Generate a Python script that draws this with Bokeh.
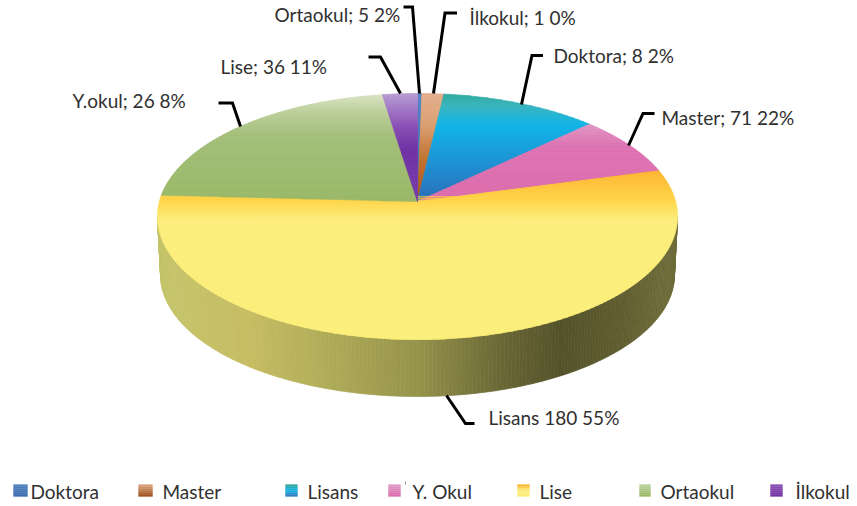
import math
from bokeh.plotting import figure
from bokeh.embed import file_html
from bokeh.resources import INLINE
from bokeh.models import Range1d
from bokeh.core.properties import value

# ---- data ----
legend_names = ["Doktora", "Master", "Lisans", "Y. Okul", "Lise", "Ortaokul", "İlkokul"]
slice_values = [1, 5, 36, 26, 180, 71, 8]          # clockwise from the top
label_texts = ["Ortaokul; 5 2%", "İlkokul; 1 0%", "Doktora; 8 2%", "Master; 71 22%",
               "Lisans 180 55%", "Y.okul; 26 8%", "Lise; 36 11%"]

# ---- styles and layout ----
slice_stops = [
    [(92, "#5585C5"), (200, "#3A6AB0")],
    [(92, "#E3B090"), (125, "#DA9F70"), (160, "#C0702E"), (200, "#A85520")],
    [(92, "#2FA898"), (105, "#3BB5BE"), (126, "#12B5E8"), (160, "#1E95D6"), (200, "#2C6FB8")],
    [(123, "#DF98C4"), (145, "#DD72B2"), (200, "#DC6AAC")],
    [(171, "#FDB52E"), (200, "#FFD447"), (220, "#FCEE7A"), (339, "#FBEE78")],
    [(92, "#DDE6C8"), (112, "#BBCF9B"), (136, "#A3BE78"), (195, "#9AB968")],
    [(92, "#B9A0D4"), (126, "#8A50B5"), (150, "#7030A5"), (200, "#7A3CAA")],
]
side_stops = [(158, "#C4C46A"), (250, "#C6BC62"), (330, "#AEAB58"), (420, "#94914A"),
              (500, "#6A6836"), (560, "#54522A"), (620, "#5F5D2F"), (675, "#6F6D3A")]
legend_stops = [
    [(0, "#4F81BD"), (1, "#3A6AB0")],
    [(0, "#D9A27A"), (1, "#A0521E")],
    [(0, "#2FA8A0"), (.5, "#12B5E8"), (1, "#2C7FC0")],
    [(0, "#DF98C4"), (1, "#DC6AAC")],
    [(0, "#FDB52E"), (.5, "#FCEE7A"), (1, "#FBEE78")],
    [(0, "#BBCF9B"), (1, "#9AB968")],
    [(0, "#8A50B5"), (1, "#7030A0")],
]
AX, AY = 417.0, 201.0          # apex on screen
A, B, K = 258.1, 121.2, 0.122  # projection of the disc
DEPTH, BOT = 58.6, 0.988

leaders = [
    ([403, 412, 419], [6.5, 6.5, 93]),
    ([456.5, 444.5, 433], [12.5, 12.5, 93]),
    ([542.5, 531.5, 521], [55, 55, 104]),
    ([654, 642.5, 628], [113, 113, 145]),
    ([446, 465, 474], [395, 423, 423]),
    ([218, 232, 240], [102.5, 102.5, 126]),
    ([368, 380, 400], [56.5, 56.5, 93]),
]
label_x = [274, 469, 553, 661, 488, 72, 220]
label_y = [14, 17, 55, 117, 417, 100, 66]
legend_sw = [(13, 27), (138, 152), (285, 297), (388, 400), (517, 529), (639, 650), (770, 782)]
legend_tx = [30, 162, 307, 412, 539, 660, 795]
FONT = "Lato"
SIZE = "19px"


def hex2rgb(h):
    return tuple(int(h[i:i + 2], 16) for i in (1, 3, 5))


def ramp(stops, t):
    if t <= stops[0][0]:
        return stops[0][1]
    for (a, ca), (b, cb) in zip(stops, stops[1:]):
        if t <= b:
            f = (t - a) / (b - a)
            r = [round(x + (y - x) * f) for x, y in zip(hex2rgb(ca), hex2rgb(cb))]
            return "#%02X%02X%02X" % tuple(r)
    return stops[-1][1]


def rim(deg):
    a = math.radians(deg)
    u, v = math.sin(a), math.cos(a)
    w = 1 + K * v
    return AX + A * u / w, AY - B * v / w


def clip(poly, y, keep_below):
    out = []
    n = len(poly)
    for i in range(n):
        p, q = poly[i], poly[(i + 1) % n]
        pin = (p[1] >= y) if keep_below else (p[1] <= y)
        qin = (q[1] >= y) if keep_below else (q[1] <= y)
        if pin:
            out.append(p)
        if pin != qin:
            f = (y - p[1]) / (q[1] - p[1])
            out.append((p[0] + (q[0] - p[0]) * f, y))
    return out


xs, ys, cols = [], [], []

# side wall, drawn as narrow strips coloured by their x position
d = 97.0
while d < 263.0:
    e = min(d + 0.8, 263.0)
    a, b = rim(d), rim(e)
    poly = [a, b,
            (AX + BOT * (b[0] - AX), AY + DEPTH + BOT * (b[1] - AY)),
            (AX + BOT * (a[0] - AX), AY + DEPTH + BOT * (a[1] - AY))]
    xs.append([q[0] for q in poly])
    ys.append([q[1] for q in poly])
    cols.append(ramp(side_stops, (a[0] + b[0]) / 2))
    d = e

# top surface: each slice's angle comes from its value; vertical gradient by bands
total = sum(slice_values)
start = 0.0
for val, stops in zip(slice_values, slice_stops):
    sweep = val / total * 360
    n = max(2, int(sweep * 2))
    outline = [(AX, AY)] + [rim(start + sweep * i / n) for i in range(n + 1)]
    ymin = min(q[1] for q in outline)
    ymax = max(q[1] for q in outline)
    y = ymin
    while y < ymax:
        band = clip(clip(outline, y, True), y + 2, False)
        if len(band) >= 3:
            xs.append([q[0] for q in band])
            ys.append([q[1] for q in band])
            cols.append(ramp(stops, y + 1))
        y += 2
    start += sweep

p = figure(width=857, height=506, output_backend="svg", toolbar_location=None,
           x_range=Range1d(0, 857), y_range=Range1d(506, 0), min_border=0,
           outline_line_color=None, background_fill_color="white")
p.axis.visible = False
p.grid.visible = False

p.patches(xs, ys, fill_color=cols, line_color=cols, line_width=0.7)

# leader lines
p.multi_line([l[0] for l in leaders], [l[1] for l in leaders], line_color="black",
             line_width=3, line_join="miter")

# data labels
p.text(label_x, label_y, text=label_texts, text_font=value(FONT), text_font_size=SIZE,
       text_color="#303030", text_align="left", text_baseline="middle")

# legend
lx0, lx1, ly0, ly1, lc = [], [], [], [], []
for (x0, x1), st in zip(legend_sw, legend_stops):
    for i in range(6):
        lx0.append(x0)
        lx1.append(x1)
        ly0.append(484 + i * 2)
        ly1.append(484 + (i + 1) * 2)
        lc.append(ramp(st, i / 5))
p.quad(left=lx0, right=lx1, top=ly0, bottom=ly1, fill_color=lc, line_color=lc, line_width=0.3)
p.segment([405], [481], [405], [484], line_color="#999999", line_width=1)
p.text(legend_tx, [490.5] * 7, text=legend_names, text_font=value(FONT), text_font_size=SIZE,
       text_color="#303030", text_align="left", text_baseline="middle")

open("out.html", "w").write(file_html(p, INLINE))
